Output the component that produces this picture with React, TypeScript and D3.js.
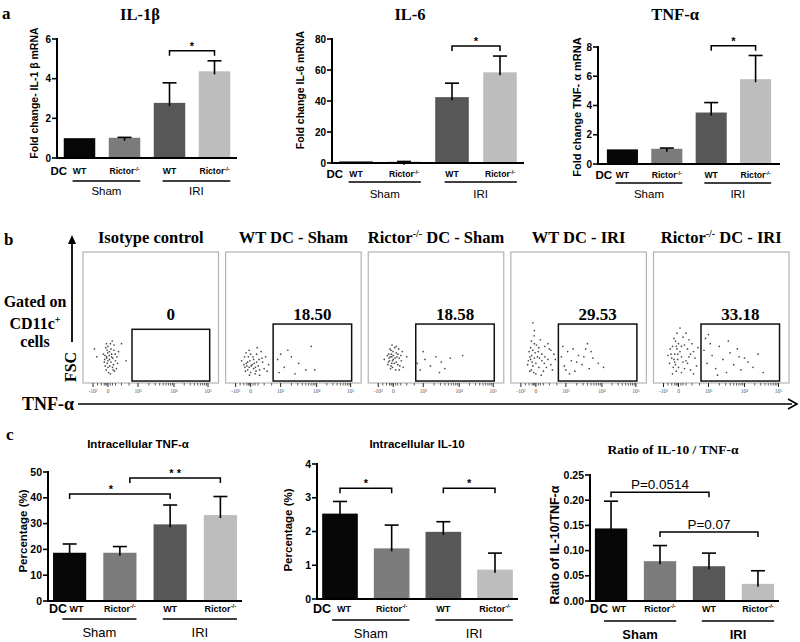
import React from 'react'
import * as d3 from 'd3'

const sans = 'Liberation Sans, Arial, Helvetica, sans-serif'
const serif = 'Liberation Serif, Times New Roman, serif'

// bar groups, shared by all six bar charts
const groups = ['Sham-WT', 'Sham-Rictor', 'IRI-WT', 'IRI-Rictor']
const genotypes = ['WT', 'Rictor', 'WT', 'Rictor']
const conditions = ['Sham', 'IRI']
const barColors = ['#070707', '#7b7b7b', '#575757', '#bdbdbd']

// panel a: mRNA fold change
const il1bMean = [1.0, 1.02, 2.78, 4.37]
const il1bErr = [0, 0.02, 1.01, 0.53]
const il6Mean = [1.0, 0.8, 42.5, 58.5]
const il6Err = [0, 0.2, 9.0, 10.5]
const tnfMean = [1.0, 1.04, 3.52, 5.8]
const tnfErr = [0, 0.05, 0.68, 1.62]

// panel c: intracellular staining
const icTnfMean = [18.7, 18.7, 29.7, 33.3]
const icTnfErr = [3.4, 2.4, 7.5, 7.2]
const icIl10Mean = [2.53, 1.5, 1.99, 0.87]
const icIl10Err = [0.36, 0.69, 0.3, 0.49]
const ratioMean = [0.144, 0.079, 0.069, 0.034]
const ratioErr = [0.054, 0.031, 0.026, 0.026]

// panel b: flow plots (x in display decades: -1 = -10^3, 0 = 0, 1 = 10^3 ...; y = FSC fraction)
const flowTitles = ['Isotype control', 'WT DC - Sham', 'Rictor DC - Sham', 'WT DC - IRI', 'Rictor DC - IRI']
const flowPercent = ['0', '18.50', '18.58', '29.53', '33.18']
const flowTicks = [-1, 0, 1, 2, 3]
const flowTickLabels = ['-10³', '0', '10³', '10⁴', '10⁵']
const gateX = [[0.8, 3.05], [0.75, 3.03], [0.75, 3.03], [0.75, 3.03], [0.75, 3.03]]
const gateTop = [0.41, 0.45, 0.45, 0.45, 0.45]

const isoPts = [[-0.1,0.2],[0.05,0.18],[0.12,0.22],[-0.05,0.15],[0.2,0.25],[0.0,0.28],[0.15,0.12],[-0.2,0.21],[0.08,0.3],[0.25,0.17],[-0.12,0.1],[0.3,0.2],[0.02,0.08],[-0.25,0.16],[0.18,0.14],[0.1,0.26],[-0.02,0.23],[0.22,0.09],[-0.15,0.27],[0.06,0.13],[0.35,0.24],[-0.08,0.19],[0.14,0.32],[0.28,0.11],[-0.3,0.22],[0.04,0.21],[0.16,0.19],[-0.18,0.13],[0.1,0.16],[0.0,0.12],[0.2,0.29],[-0.06,0.25],[0.32,0.15],[0.08,0.07],[-0.22,0.18],[0.12,0.2],[0.24,0.22],[-0.1,0.3],[0.05,0.24],[0.17,0.1],[-0.75,0.2],[0.6,0.17],[-0.9,0.26],[0.45,0.3],[0.0,0.17]]
const wtShamPts = [[-0.3,0.15],[-0.1,0.12],[0.1,0.18],[0.3,0.1],[-0.4,0.2],[0.0,0.08],[0.2,0.22],[-0.2,0.1],[0.4,0.16],[0.05,0.14],[-0.15,0.2],[0.25,0.13],[-0.35,0.09],[0.15,0.07],[0.5,0.2],[-0.05,0.17],[0.35,0.24],[-0.25,0.13],[0.1,0.11],[0.2,0.16],[-0.45,0.14],[0.0,0.22],[0.3,0.06],[-0.1,0.25],[0.45,0.11],[0.08,0.2],[-0.2,0.16],[0.18,0.09],[0.6,0.14],[-0.3,0.23],[0.12,0.15],[0.38,0.19],[-0.08,0.06],[0.22,0.27],[-0.38,0.12],[0.28,0.18],[0.02,0.13],[-0.6,0.17],[0.55,0.09],[0.16,0.12],[0.9,0.18],[1.1,0.12],[1.3,0.2],[0.95,0.08],[1.5,0.15],[1.2,0.25],[1.7,0.1],[1.0,0.22],[1.85,0.28],[1.4,0.07],[1.95,0.1]]
const rictorShamPts = [[-0.2,0.2],[0.0,0.18],[0.1,0.23],[-0.1,0.15],[0.2,0.19],[-0.3,0.22],[0.05,0.27],[-0.05,0.12],[0.15,0.14],[-0.15,0.25],[0.25,0.21],[-0.25,0.17],[0.0,0.21],[0.1,0.16],[-0.1,0.2],[0.3,0.24],[-0.35,0.14],[0.08,0.1],[-0.02,0.24],[0.18,0.26],[-0.18,0.11],[0.12,0.2],[-0.08,0.29],[0.22,0.13],[-0.28,0.19],[0.03,0.15],[-0.12,0.22],[0.27,0.17],[-0.4,0.21],[0.06,0.19],[0.16,0.22],[-0.22,0.26],[0.33,0.12],[-0.05,0.17],[0.1,0.28],[-0.32,0.16],[0.2,0.1],[-0.15,0.13],[0.45,0.2],[-0.6,0.18],[0.8,0.15],[0.9,0.1],[1.05,0.18],[1.2,0.13],[1.35,0.2],[1.5,0.16],[1.6,0.11],[1.75,0.19],[1.0,0.24],[1.45,0.08],[2.1,0.21]]
const wtIriPts = [[-0.4,0.2],[-0.2,0.25],[0.0,0.15],[0.2,0.22],[0.4,0.18],[-0.3,0.1],[-0.1,0.3],[0.1,0.12],[0.3,0.28],[0.5,0.14],[-0.5,0.17],[0.05,0.2],[-0.15,0.08],[0.25,0.09],[0.6,0.22],[-0.35,0.27],[0.15,0.33],[-0.05,0.23],[0.35,0.12],[-0.25,0.16],[0.45,0.26],[0.0,0.07],[-0.45,0.24],[0.2,0.17],[-0.1,0.19],[0.1,0.27],[0.55,0.1],[-0.3,0.32],[0.3,0.2],[-0.2,0.13],[0.65,0.18],[0.08,0.24],[-0.4,0.09],[0.4,0.3],[-0.12,0.36],[0.18,0.06],[-0.28,0.21],[0.28,0.15],[0.02,0.29],[-0.55,0.14],[0.5,0.25],[-0.1,0.4],[-0.2,0.46],[0.12,0.19],[-0.35,0.18],[0.85,0.2],[0.95,0.13],[1.05,0.24],[1.15,0.17],[1.25,0.09],[1.35,0.21],[1.45,0.14],[1.55,0.26],[1.65,0.11],[1.75,0.19],[0.9,0.28],[1.1,0.07],[1.3,0.16],[1.5,0.2],[1.7,0.24],[1.9,0.15],[2.05,0.12],[1.2,0.26],[1.0,0.1],[1.6,0.3]]
const rictorIriPts = [[-0.5,0.22],[-0.3,0.18],[-0.1,0.26],[0.1,0.2],[0.3,0.15],[0.5,0.24],[-0.6,0.15],[-0.2,0.32],[0.0,0.12],[0.2,0.29],[0.4,0.1],[-0.4,0.28],[0.15,0.35],[-0.15,0.09],[0.35,0.2],[-0.35,0.12],[0.05,0.24],[0.25,0.17],[-0.25,0.22],[0.6,0.13],[-0.05,0.18],[0.45,0.3],[-0.45,0.19],[0.1,0.08],[-0.1,0.38],[0.3,0.26],[-0.55,0.26],[0.2,0.11],[-0.3,0.34],[0.55,0.19],[0.0,0.3],[-0.2,0.14],[0.4,0.22],[-0.7,0.21],[0.15,0.16],[-0.4,0.07],[0.65,0.27],[-0.05,0.22],[0.25,0.38],[-0.15,0.28],[0.05,0.42],[0.35,0.33],[-0.25,0.16],[0.5,0.07],[0.1,0.28],[0.85,0.25],[0.95,0.15],[1.0,0.37],[1.1,0.21],[1.2,0.11],[1.3,0.28],[1.4,0.18],[1.5,0.08],[1.6,0.23],[1.7,0.14],[1.8,0.26],[1.9,0.1],[2.0,0.19],[2.1,0.16],[2.25,0.12],[2.4,0.22],[2.55,0.08],[1.05,0.3],[1.25,0.06],[1.55,0.32],[1.85,0.2],[0.9,0.34]]
const flowPts = [isoPts, wtShamPts, rictorShamPts, wtIriPts, rictorIriPts]

type Bracket = { a: number; b: number; level: number; label: string; dx?: number; aShift?: number; pText?: boolean }

function Rictor({ x, y, size }: { x: number; y: number; size: number }) {
  return (
    <text x={x} y={y} textAnchor="middle" fontFamily={sans} fontWeight="bold" fontSize={size}>
      Rictor<tspan fontSize={size * 0.65} dy={-size * 0.4}>-/-</tspan>
    </text>
  )
}

function BarChart(c: any) {
  const x = d3.scaleBand<string>().domain(groups).range([c.x0, c.x1]).paddingInner(c.pi).paddingOuter(c.po)
  const y = d3.scaleLinear().domain([0, c.max]).range([c.yBottom, c.yTop])
  const bw = x.bandwidth()
  const left = (i: number) => x(groups[i]) as number
  const cx = (i: number) => left(i) + bw / 2
  const fmt = d3.format(c.fmt)
  const brackets: Bracket[] = c.brackets
  return (
    <g>
      <text x={c.titleX} y={c.titleY} textAnchor="middle" fontFamily={c.titleFont} fontWeight="bold" fontSize={c.titleSize}>{c.title}</text>
      <text transform={`translate(${c.yLabelX},${c.yLabelY}) rotate(-90)`} dy="0.35em" textAnchor="middle"
        fontFamily={sans} fontWeight="bold" fontSize={c.yLabelSize}>{c.yLabel}</text>
      {c.means.map((m: number, i: number) => (
        <rect key={'b' + i} x={left(i)} y={y(m)} width={bw} height={c.yBottom - y(m)} fill={barColors[i]} />
      ))}
      {c.means.map((m: number, i: number) => c.errs[i] > 0 && (
        <g key={'e' + i} stroke="#000" strokeWidth={1.6}>
          <line x1={cx(i)} x2={cx(i)} y1={y(m) + 3} y2={y(m + c.errs[i])} />
          <line x1={cx(i) - 7} x2={cx(i) + 7} y1={y(m + c.errs[i])} y2={y(m + c.errs[i])} />
        </g>
      ))}
      {/* axes */}
      <line x1={c.x0} x2={c.x0} y1={c.yTop - 1} y2={c.yBottom + 1} stroke="#000" strokeWidth={2} />
      <line x1={c.x0 - 1} x2={c.x1} y1={c.yBottom} y2={c.yBottom} stroke="#000" strokeWidth={2} />
      {c.ticks.map((t: number) => (
        <g key={'t' + t}>
          <line x1={c.x0 - 5} x2={c.x0} y1={y(t)} y2={y(t)} stroke="#000" strokeWidth={1.6} />
          <text x={c.x0 - 6} y={y(t)} dy="0.35em" textAnchor="end" fontFamily={sans} fontWeight="bold" fontSize={c.tickSize}>{fmt(t)}</text>
        </g>
      ))}
      {/* significance brackets */}
      {brackets.map((br, k) => {
        const xa = cx(br.a) + (br.aShift || 0)
        const xb = cx(br.b)
        const yy = y(br.level)
        return (
          <g key={'br' + k}>
            <path d={`M${xa},${yy + 5}V${yy}H${xb}V${yy + 5}`} fill="none" stroke="#000" strokeWidth={1.5} />
            {br.pText ? (
              <text x={(xa + xb) / 2} y={yy - 3} textAnchor="middle" fontFamily={sans} fontSize={13.5}>{br.label}</text>
            ) : (
              <text x={(xa + xb) / 2 + (br.dx || 0)} y={yy - 1} textAnchor="middle" fontFamily={sans} fontWeight="bold" fontSize={11}>{br.label}</text>
            )}
          </g>
        )
      })}
      {/* category rows */}
      <text x={c.dcX} y={c.rowY} textAnchor="end" fontFamily={sans} fontWeight="bold" fontSize={c.dcSize}>DC</text>
      {genotypes.map((g, i) => {
        const gx = cx(i) + (i === 0 ? c.firstShift : 0)
        return g === 'WT'
          ? <text key={'g' + i} x={gx} y={c.rowY - 1} textAnchor="middle" fontFamily={sans} fontWeight="bold" fontSize={c.genoSize}>WT</text>
          : <Rictor key={'g' + i} x={gx} y={c.rowY - 1} size={c.genoSize} />
      })}
      {conditions.map((cond, k) => {
        const s = left(2 * k) + bw * 0.28
        const e = left(2 * k + 1) + bw
        return (
          <g key={'c' + k}>
            <line x1={s} x2={e} y1={c.lineY} y2={c.lineY} stroke="#000" strokeWidth={1.5} />
            <text x={(s + e) / 2} y={c.condY} textAnchor="middle" fontFamily={sans} fontWeight={c.condBold ? 'bold' : 'normal'} fontSize={c.condSize}>{cond}</text>
          </g>
        )
      })}
    </g>
  )
}

function FlowPanel({ i }: { i: number }) {
  const band = d3.scaleBand<string>().domain(flowTitles).range([83, 789]).paddingInner(0.05)
  const left = band(flowTitles[i]) as number
  const w = band.bandwidth()
  const top = 252
  const bottom = 383
  const x = d3.scaleLinear().domain([-1, 0, 1, 2, 3]).range([left + 10, left + 25, left + 55, left + 91, left + 125])
  const y = d3.scaleLinear().domain([0, 1]).range([bottom, top])
  const minor: number[] = [-0.7, -0.45, -0.25, -0.15, -0.08, 0.08, 0.15, 0.25, 0.45, 0.7]
  for (const k of [1, 2]) for (let m = 2; m < 10; m++) minor.push(k + Math.log10(m))
  const t = flowTitles[i]
  const isRictor = t.startsWith('Rictor')
  const gx0 = x(gateX[i][0])
  const gx1 = x(gateX[i][1])
  return (
    <g>
      <text x={left + w / 2} y={243} textAnchor="middle" fontFamily={serif} fontWeight="bold" fontSize={16.5}>
        {isRictor ? (<>Rictor<tspan fontSize={10} dy={-6}>-/-</tspan><tspan dy={6}>{t.slice(6)}</tspan></>) : t}
      </text>
      <rect x={left} y={top} width={w} height={bottom - top} fill="#fff" stroke="#b4b4b4" strokeWidth={1.2} />
      {flowPts[i].map((p, k) => (
        <circle key={k} cx={x(p[0])} cy={y(p[1])} r={0.85} fill="#2a2a2a" opacity={0.85} />
      ))}
      <rect x={gx0} y={y(gateTop[i])} width={gx1 - gx0} height={y(0.015) - y(gateTop[i])} fill="none" stroke="#111" strokeWidth={1.5} />
      <text x={(gx0 + gx1) / 2} y={320} textAnchor="middle" fontFamily={serif} fontWeight="bold" fontSize={17}>{flowPercent[i]}</text>
      {flowTicks.map((v, k) => (
        <g key={'ft' + k}>
          <line x1={x(v)} x2={x(v)} y1={bottom} y2={bottom + 4} stroke="#222" strokeWidth={1} />
          <text x={x(v)} y={393} textAnchor="middle" fontFamily={serif} fontSize={5.5} fill="#555">{flowTickLabels[k]}</text>
        </g>
      ))}
      {minor.map((v, k) => (
        <line key={'fm' + k} x1={x(v)} x2={x(v)} y1={bottom} y2={bottom + 2.5} stroke="#333" strokeWidth={0.8} />
      ))}
    </g>
  )
}

export default function App() {
  const common = { pi: 0.3, fmt: 'd', tickSize: 10, yLabelSize: 10.5, genoSize: 8.6, dcSize: 11.5, condSize: 11.5, firstShift: 0 }
  const cCommon = { fmt: 'd', tickSize: 10.5, yLabelSize: 11.5, genoSize: 9, dcSize: 12.5, condSize: 13 }
  return (
    <svg width={800} height={642} style={{ position: 'absolute', left: 0, top: 0, background: '#fff' }}>
      {/* panel a */}
      <text x={2} y={19} fontFamily={serif} fontWeight="bold" fontSize={17}>a</text>
      <BarChart {...common} x0={57} x1={237} po={0.15} yTop={39} yBottom={158} max={6} ticks={[0, 2, 4, 6]}
        means={il1bMean} errs={il1bErr} brackets={[{ a: 2, b: 3, level: 5.41, label: '*' }]}
        title="IL-1β" titleX={140} titleY={20} titleFont={serif} titleSize={16.5}
        yLabel="Fold change- IL-1 β mRNA" yLabelX={34} yLabelY={93}
        dcX={67} rowY={175} lineY={181} condY={195} />
      <BarChart {...common} x0={332} x1={524} po={0.15} yTop={39} yBottom={163} max={80} ticks={[0, 20, 40, 60, 80]}
        means={il6Mean} errs={il6Err} brackets={[{ a: 2, b: 3, level: 75.5, label: '*' }]}
        title="IL-6" titleX={410} titleY={20} titleFont={serif} titleSize={16.5}
        yLabel="Fold change IL-6 mRNA" yLabelX={300} yLabelY={90}
        dcX={343} rowY={178} lineY={182} condY={198} />
      <BarChart {...common} x0={598} x1={780} po={0.2} yTop={47} yBottom={164} max={8} ticks={[0, 2, 4, 6, 8]}
        means={tnfMean} errs={tnfErr} brackets={[{ a: 2, b: 3, level: 8.08, label: '*' }]}
        title="TNF-α" titleX={675} titleY={20} titleFont={serif} titleSize={16.5}
        yLabel="Fold change  TNF- α mRNA" yLabelX={577} yLabelY={107} yLabelSize={11}
        dcX={612} rowY={179} lineY={183} condY={198} />

      {/* panel b */}
      <text x={4} y={245} fontFamily={serif} fontWeight="bold" fontSize={17}>b</text>
      <line x1={72} x2={72} y1={342} y2={242} stroke="#000" strokeWidth={1.8} />
      <path d="M68,244L72,235L76,244Z" fill="#000" />
      <text x={35} y={307} textAnchor="middle" fontFamily={serif} fontWeight="bold" fontSize={16}>Gated on</text>
      <text x={35} y={329} textAnchor="middle" fontFamily={serif} fontWeight="bold" fontSize={16}>CD11c<tspan fontSize={10} dy={-6}>+</tspan></text>
      <text x={35} y={347} textAnchor="middle" fontFamily={serif} fontWeight="bold" fontSize={16}>cells</text>
      <text transform="translate(76,367) rotate(-90)" textAnchor="middle" fontFamily={serif} fontWeight="bold" fontSize={16}>FSC</text>
      {flowTitles.map((_, i) => <FlowPanel key={i} i={i} />)}
      <text x={22} y={410} fontFamily={serif} fontWeight="bold" fontSize={18}>TNF-α</text>
      <line x1={78} x2={792} y1={404} y2={404} stroke="#000" strokeWidth={1.6} />
      <path d="M788,399L797,404L788,409" fill="none" stroke="#000" strokeWidth={1.6} />

      {/* panel c */}
      <text x={6} y={440} fontFamily={serif} fontWeight="bold" fontSize={17}>c</text>
      <BarChart {...cCommon} x0={48} x1={242} pi={0.34} po={0.1} yTop={472} yBottom={601} max={50} ticks={[0, 10, 20, 30, 40, 50]}
        means={icTnfMean} errs={icTnfErr}
        brackets={[{ a: 0, b: 2, level: 41.5, label: '*', dx: -9 }, { a: 1, b: 3, level: 47.7, label: '* *', aShift: 10 }]}
        title="Intracellular TNF-α" titleX={138} titleY={448} titleFont={sans} titleSize={11.5}
        yLabel="Percentage (%)" yLabelX={23} yLabelY={531}
        dcX={67} rowY={613} lineY={619} condY={637} firstShift={7} />
      <BarChart {...cCommon} x0={317} x1={518} pi={0.31} po={0.1} yTop={464} yBottom={599} max={4} ticks={[0, 1, 2, 3, 4]}
        means={icIl10Mean} errs={icIl10Err}
        brackets={[{ a: 0, b: 1, level: 3.28, label: '*' }, { a: 2, b: 3, level: 3.28, label: '*' }]}
        title="Intracellular IL-10" titleX={417} titleY={448} titleFont={sans} titleSize={11.5}
        yLabel="Percentage (%)" yLabelX={288} yLabelY={530}
        dcX={331} rowY={613} lineY={620} condY={638} firstShift={4} />
      <BarChart {...cCommon} fmt=".2f" x0={590} x1={779} pi={0.34} po={0.1} yTop={475} yBottom={601} max={0.25}
        ticks={[0, 0.05, 0.1, 0.15, 0.2, 0.25]}
        means={ratioMean} errs={ratioErr}
        brackets={[{ a: 0, b: 2, level: 0.216, label: 'P=0.0514', pText: true }, { a: 1, b: 3, level: 0.137, label: 'P=0.07', pText: true }]}
        title="Ratio of IL-10 / TNF-α" titleX={673} titleY={454} titleFont={serif} titleSize={13.5}
        yLabel="Ratio of IL-10/TNF-α" yLabelX={555} yLabelY={545} yLabelSize={12.5}
        dcX={608} rowY={613} lineY={621} condY={639} condBold firstShift={8} />
    </svg>
  )
}
